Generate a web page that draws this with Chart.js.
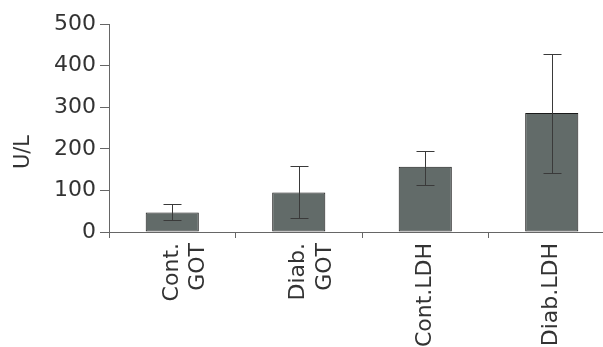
<!DOCTYPE html>
<html>
<head>
<meta charset="utf-8">
<script src="https://cdn.jsdelivr.net/npm/chart.js@4.4.0/dist/chart.umd.min.js"></script>
<style>
  html, body { margin: 0; padding: 0; background: #fff; overflow: hidden; }
  #wrap { width: 620px; height: 347px; }
</style>
</head>
<body>
<div id="wrap"><canvas id="myChart" width="620" height="347"></canvas></div>
<script>
// data
let labels = [['Cont.', 'GOT'], ['Diab.', 'GOT'], 'Cont.LDH', 'Diab.LDH'];
let means = [47, 95, 157, 286];
let errUp = [20, 63, 38, 143];
let errDown = [19, 62, 43, 143];
let yTicks = [0, 100, 200, 300, 400, 500];

let barColor = '#626b69';
let inkColor = '#333333';
let fontFam = '"DejaVu Sans", sans-serif';

//error bars + y title
let errorBars = {
  id: 'errorBars',
  afterDatasetsDraw(chart) {
    let ctx = chart.ctx;
    let y = chart.scales.y;
    let meta = chart.getDatasetMeta(0);
    ctx.save();
    ctx.strokeStyle = '#3a3a3a';
    ctx.lineWidth = 1;
    meta.data.forEach(function (bar, i) {
      let x = Math.round(bar.x) + 0.5;
      let top = Math.round(y.getPixelForValue(means[i] + errUp[i])) + 0.5;
      let bot = Math.round(y.getPixelForValue(means[i] - errDown[i])) + 0.5;
      ctx.beginPath();
      ctx.moveTo(x, top); ctx.lineTo(x, bot);
      ctx.moveTo(x - 9, top); ctx.lineTo(x + 9, top);
      ctx.moveTo(x - 9, bot); ctx.lineTo(x + 9, bot);
      ctx.stroke();
    });
    ctx.restore();
  },
  afterDraw(chart) {
    let ctx = chart.ctx;
    ctx.save();
    ctx.translate(24, 152);
    ctx.rotate(-Math.PI / 2);
    ctx.fillStyle = inkColor;
    ctx.font = '21px ' + fontFam;
    ctx.textAlign = 'center';
    ctx.textBaseline = 'middle';
    ctx.fillText('U/L', 0, 0);
    ctx.restore();
  }
};

let ctx = document.getElementById('myChart').getContext('2d');
let myChart = new Chart(ctx, {
  type: 'bar',
  data: {
    labels: labels,
    datasets: [{
      data: means,
      backgroundColor: barColor,
      borderColor: '#1a1a1a',
      borderWidth: 1,
      borderSkipped: false,
      categoryPercentage: 1,
      barPercentage: 0.42
    }]
  },
  plugins: [errorBars],
  options: {
    responsive: false,
    animation: false,
    layout: { padding: { top: 24, right: 5 } },
    plugins: { legend: { display: false }, tooltip: { enabled: false } },
    scales: {
      x: {
        grid: { offset: true, drawOnChartArea: false, color: '#666', tickLength: 6 },
        border: { color: '#666', width: 1 },
        ticks: {
          color: inkColor, font: { family: fontFam, size: 22 },
          minRotation: 90, maxRotation: 90, padding: 5, autoSkip: false
        },
        afterFit: function (scale) { scale.height = 115; }
      },
      y: {
        min: 0, max: 500,
        afterBuildTicks: function (scale) {
          scale.ticks = yTicks.map(function (v) { return { value: v }; });
        },
        grid: { drawOnChartArea: false, color: '#666', tickLength: 9 },
        border: { color: '#666', width: 1 },
        ticks: { color: inkColor, font: { family: fontFam, size: 22 }, padding: 4 },
        afterFit: function (scale) { scale.width = 109; }
      }
    }
  }
});
</script>
</body>
</html>
